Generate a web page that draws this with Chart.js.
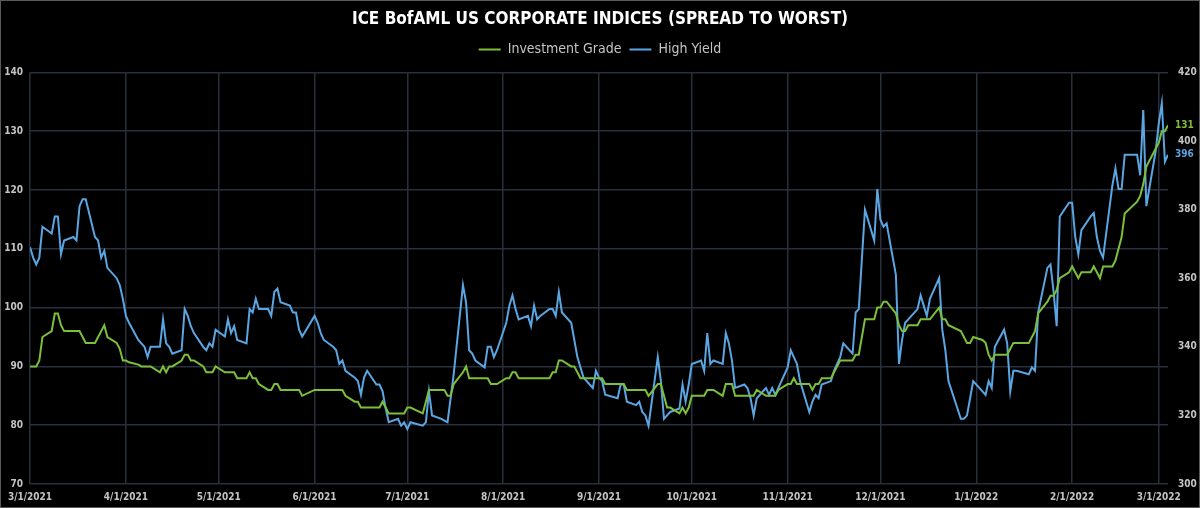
<!DOCTYPE html>
<html>
<head>
<meta charset="utf-8">
<script src="https://cdn.jsdelivr.net/npm/chart.js@4/dist/chart.umd.min.js"></script>
<style>
  html, body { margin: 0; padding: 0; background: #000; }
  #wrap { position: relative; width: 1198px; height: 506px; border: 1px solid #5a5a5a; }
</style>
</head>
<body>
<div id="wrap"><canvas id="spreadChart"></canvas></div>
<script>
// trading days, 3/1/2021 - 3/4/2022
const dates = [
  '2021-03-01','2021-03-02','2021-03-03','2021-03-04','2021-03-05','2021-03-08','2021-03-09','2021-03-10','2021-03-11','2021-03-12',
  '2021-03-15','2021-03-16','2021-03-17','2021-03-18','2021-03-19','2021-03-22','2021-03-23','2021-03-24','2021-03-25','2021-03-26',
  '2021-03-29','2021-03-30','2021-03-31','2021-04-01','2021-04-02','2021-04-05','2021-04-06','2021-04-07','2021-04-08','2021-04-09',
  '2021-04-12','2021-04-13','2021-04-14','2021-04-15','2021-04-16','2021-04-19','2021-04-20','2021-04-21','2021-04-22','2021-04-23',
  '2021-04-26','2021-04-27','2021-04-28','2021-04-29','2021-04-30','2021-05-03','2021-05-04','2021-05-05','2021-05-06','2021-05-07',
  '2021-05-10','2021-05-11','2021-05-12','2021-05-13','2021-05-14','2021-05-17','2021-05-18','2021-05-19','2021-05-20','2021-05-21',
  '2021-05-24','2021-05-25','2021-05-26','2021-05-27','2021-05-28','2021-06-01','2021-06-02','2021-06-03','2021-06-04','2021-06-07',
  '2021-06-08','2021-06-09','2021-06-10','2021-06-11','2021-06-14','2021-06-15','2021-06-16','2021-06-17','2021-06-18','2021-06-21',
  '2021-06-22','2021-06-23','2021-06-24','2021-06-25','2021-06-28','2021-06-29','2021-06-30','2021-07-01','2021-07-02','2021-07-06',
  '2021-07-07','2021-07-08','2021-07-09','2021-07-12','2021-07-13','2021-07-14','2021-07-15','2021-07-16','2021-07-19','2021-07-20',
  '2021-07-21','2021-07-22','2021-07-23','2021-07-26','2021-07-27','2021-07-28','2021-07-29','2021-07-30','2021-08-02','2021-08-03',
  '2021-08-04','2021-08-05','2021-08-06','2021-08-09','2021-08-10','2021-08-11','2021-08-12','2021-08-13','2021-08-16','2021-08-17',
  '2021-08-18','2021-08-19','2021-08-20','2021-08-23','2021-08-24','2021-08-25','2021-08-26','2021-08-27','2021-08-30','2021-08-31',
  '2021-09-01','2021-09-02','2021-09-03','2021-09-07','2021-09-08','2021-09-09','2021-09-10','2021-09-13','2021-09-14','2021-09-15',
  '2021-09-16','2021-09-17','2021-09-20','2021-09-21','2021-09-22','2021-09-23','2021-09-24','2021-09-27','2021-09-28','2021-09-29',
  '2021-09-30','2021-10-01','2021-10-04','2021-10-05','2021-10-06','2021-10-07','2021-10-08','2021-10-11','2021-10-12','2021-10-13',
  '2021-10-14','2021-10-15','2021-10-18','2021-10-19','2021-10-20','2021-10-21','2021-10-22','2021-10-25','2021-10-26','2021-10-27',
  '2021-10-28','2021-10-29','2021-11-01','2021-11-02','2021-11-03','2021-11-04','2021-11-05','2021-11-08','2021-11-09','2021-11-10',
  '2021-11-11','2021-11-12','2021-11-15','2021-11-16','2021-11-17','2021-11-18','2021-11-19','2021-11-22','2021-11-23','2021-11-24',
  '2021-11-26','2021-11-29','2021-11-30','2021-12-01','2021-12-02','2021-12-03','2021-12-06','2021-12-07','2021-12-08','2021-12-09',
  '2021-12-10','2021-12-13','2021-12-14','2021-12-15','2021-12-16','2021-12-17','2021-12-20','2021-12-21','2021-12-22','2021-12-23',
  '2021-12-27','2021-12-28','2021-12-29','2021-12-30','2021-12-31','2022-01-03','2022-01-04','2022-01-05','2022-01-06','2022-01-07',
  '2022-01-10','2022-01-11','2022-01-12','2022-01-13','2022-01-14','2022-01-18','2022-01-19','2022-01-20','2022-01-21','2022-01-24',
  '2022-01-25','2022-01-26','2022-01-27','2022-01-28','2022-01-31','2022-02-01','2022-02-02','2022-02-03','2022-02-04','2022-02-07',
  '2022-02-08','2022-02-09','2022-02-10','2022-02-11','2022-02-14','2022-02-15','2022-02-16','2022-02-17','2022-02-18','2022-02-22',
  '2022-02-23','2022-02-24','2022-02-25','2022-02-28','2022-03-01','2022-03-02','2022-03-03','2022-03-04'
];

const investmentGrade = [
  90, 90, 90, 91, 95, 96, 99, 99, 97, 96,
  96, 96, 96, 95, 94, 94, 95, 96, 97, 95,
  94, 93, 91, 91, 90.7, 90.3, 90, 90, 90, 90,
  89, 90, 89, 90, 90, 91, 92, 92, 91, 91,
  90, 89, 89, 89, 90, 89, 89, 89, 89, 88,
  88, 89, 88, 88, 87, 86, 86, 87, 87, 86,
  86, 86, 86, 86, 85, 86, 86, 86, 86, 86,
  86, 86, 86, 85, 84, 84, 83, 83, 83, 83,
  83, 84, 83, 82, 82, 82, 82, 83, 83, 82,
  84, 86, 86, 86, 86, 85, 85, 87, 89, 90,
  88, 88, 88, 88, 88, 87, 87, 87, 88, 88,
  89, 89, 88, 88, 88, 88, 88, 88, 88, 89,
  89, 91, 91, 90, 90, 89, 88, 88, 88, 88,
  88, 88, 87, 87, 87, 87, 86, 86, 86, 86,
  86, 85, 87, 87, 85, 83, 83, 82, 83, 82,
  83, 85, 85, 85, 86, 86, 86, 85, 87, 87,
  87, 85, 85, 85, 85, 85, 86, 85, 85, 85,
  85, 86, 87, 87, 88, 87, 87, 87, 86, 87,
  87, 88, 88, 89, 90, 91, 91, 91, 92, 92,
  98, 98, 100, 100, 101, 101, 99, 97, 96, 96,
  97, 97, 98, 98, 98, 98, 100, 98, 98, 97,
  96, 95, 94, 94, 95, 94.5, 94, 92, 91, 92,
  92, 92, 93, 94, 94, 94, 95, 96, 99, 101,
  102, 102, 103, 105, 106, 107, 106, 105, 106, 106,
  107, 106, 105, 107, 107, 108, 110, 112, 116, 118,
  119, 121, 124, 127, 128, 130, 130, 131
];

const highYield = [
  369, 366, 364, 366, 375, 373, 378, 378, 367, 371,
  372, 371, 381, 383, 383, 372, 371, 366, 368, 363,
  360, 358, 354, 349, 347, 342, 341, 340, 337, 340,
  340, 348, 341, 340, 338, 339, 351, 349, 346, 344,
  340, 339, 341, 340, 345, 343, 348, 344, 346, 342,
  341, 351, 350, 354, 351, 351, 349, 356, 357, 353,
  352, 350, 350, 345, 343, 349, 347, 344, 342, 340,
  339, 335, 336, 333, 331, 330, 326, 331, 333, 329,
  329, 327, 322, 318, 319, 317, 318, 316, 318, 317,
  318, 327, 320, 319, 318.5, 318, 325, 332, 358, 353,
  339, 338, 336, 334, 340, 340, 337, 339, 347, 352,
  355, 351, 348, 349, 346, 352, 348, 349, 351, 351,
  349, 356, 350, 347, 342, 337, 334, 331, 328, 333,
  331, 330, 326, 325, 329, 329, 324, 323, 324, 321,
  320, 317, 337, 330, 319, 320, 321, 322, 329, 324,
  329, 335, 336, 333, 344, 335, 336, 335, 344, 341,
  336, 328, 329, 328, 325, 320, 325, 328, 326, 328,
  326, 328, 334, 339, 337, 335, 330, 321, 324, 326,
  325, 329, 330, 333, 335, 337, 341, 338, 350, 351,
  380, 371, 386, 377, 375, 376, 361, 335, 342, 347,
  348, 351, 355, 352, 349, 354, 360, 345, 339, 330,
  319, 319, 320, 325, 330, 327, 326, 330, 328, 340,
  345, 341, 327, 333, 333, 332, 334, 333, 350, 363,
  364, 356, 346, 378, 382, 382, 372, 367, 374, 378,
  379, 372, 368, 366, 387, 392, 386, 386, 396, 396,
  390, 409, 381, 397, 405, 411, 394, 396
];

const tickDates = [
  '2021-03-01','2021-04-01','2021-05-01','2021-06-01','2021-07-01','2021-08-01','2021-09-01',
  '2021-10-01','2021-11-01','2021-12-01','2022-01-01','2022-02-01','2022-03-01'
];
const tickLabels = [
  '3/1/2021','4/1/2021','5/1/2021','6/1/2021','7/1/2021','8/1/2021','9/1/2021',
  '10/1/2021','11/1/2021','12/1/2021','1/1/2022','2/1/2022','3/1/2022'
];

const GREEN = '#7cbf3a';
const BLUE = '#5aa6e3';
const GRID = '#28303d';
const LABEL = '#c4c4c4';
const FONT = "'DejaVu Sans Condensed', sans-serif";

// day number since first date, so the x axis behaves like a time axis
const startMs = Date.parse(dates[0]);
function dayOf(d) { return Math.round((Date.parse(d) - startMs) / 86400000); }

const igPoints = dates.map((d, i) => ({ x: dayOf(d), y: investmentGrade[i] }));
const hyPoints = dates.map((d, i) => ({ x: dayOf(d), y: highYield[i] }));
const tickDays = tickDates.map(dayOf);

// last value printed next to the right axis
const lastValuePlugin = {
    id: 'lastValue',
    afterDatasetsDraw(chart) {
        const ctx = chart.ctx;
        const area = chart.chartArea;
        ctx.save();
        ctx.font = 'bold 10px ' + FONT;
        ctx.textAlign = 'left';
        ctx.textBaseline = 'middle';
        chart.data.datasets.forEach(function(ds) {
            const last = ds.data[ds.data.length - 1].y;
            const scale = chart.scales[ds.yAxisID];
            ctx.fillStyle = ds.borderColor;
            ctx.fillText(String(Math.round(last)), area.right + 7, scale.getPixelForValue(last));
        });
        ctx.restore();
    }
};

// a bit more room under the legend than above it
const legendGap = {
    id: 'legendGap',
    beforeInit(chart) {
        const fit = chart.legend.fit;
        chart.legend.fit = function() {
            fit.bind(chart.legend)();
            this.height += 6;
        };
    }
};

const ctx = document.getElementById('spreadChart');
new Chart(ctx, {
    type: 'line',
    data: {
        datasets: [{
            label: 'Investment Grade',
            data: igPoints,
            yAxisID: 'y',
            borderColor: GREEN,
            backgroundColor: GREEN,
            borderWidth: 2,
            pointRadius: 0,
            tension: 0
        }, {
            label: 'High Yield',
            data: hyPoints,
            yAxisID: 'y2',
            borderColor: BLUE,
            backgroundColor: BLUE,
            borderWidth: 2,
            pointRadius: 0,
            tension: 0
        }]
    },
    options: {
        responsive: true,
        maintainAspectRatio: false,
        animation: false,
        layout: { padding: { top: 0, right: 0, bottom: 1, left: 0 } },
        plugins: {
            title: {
                display: true,
                text: 'ICE BofAML US CORPORATE INDICES (SPREAD TO WORST)',
                color: '#ffffff',
                font: { family: FONT, size: 17, weight: 'bold' },
                padding: { top: 8, bottom: 5 }
            },
            legend: {
                display: true,
                labels: {
                    color: LABEL,
                    font: { family: FONT, size: 14 },
                    usePointStyle: true,
                    pointStyle: 'line',
                    pointStyleWidth: 22,
                    boxHeight: 14,
                    padding: 8
                }
            },
            tooltip: { enabled: false }
        },
        scales: {
            x: {
                type: 'linear',
                min: 0,
                max: dayOf(dates[dates.length - 1]),
                afterBuildTicks: function(axis) {
                    axis.ticks = tickDays.map(v => ({ value: v }));
                },
                afterFit: function(axis) { axis.height = 22; },
                grid: { color: GRID, lineWidth: 1.5, drawTicks: false },
                border: { display: false },
                ticks: {
                    color: LABEL,
                    font: { family: FONT, size: 10, weight: 'bold' },
                    padding: 7,
                    maxRotation: 0,
                    autoSkip: false,
                    callback: function(value) {
                        const i = tickDays.indexOf(value);
                        return i >= 0 ? tickLabels[i] : '';
                    }
                }
            },
            y: {
                position: 'left',
                min: 70,
                max: 140,
                afterFit: function(axis) { axis.width = 28; },
                grid: { color: GRID, lineWidth: 1.5, drawTicks: false },
                border: { display: false },
                ticks: {
                    stepSize: 10,
                    color: LABEL,
                    font: { family: FONT, size: 10, weight: 'bold' },
                    padding: 7
                }
            },
            y2: {
                position: 'right',
                min: 300,
                max: 420,
                afterFit: function(axis) { axis.width = 31; },
                grid: { display: false, drawTicks: false },
                border: { display: false },
                ticks: {
                    stepSize: 20,
                    color: LABEL,
                    font: { family: FONT, size: 10, weight: 'bold' },
                    padding: 10
                }
            }
        }
    },
    plugins: [lastValuePlugin, legendGap]
});
</script>
</body>
</html>
